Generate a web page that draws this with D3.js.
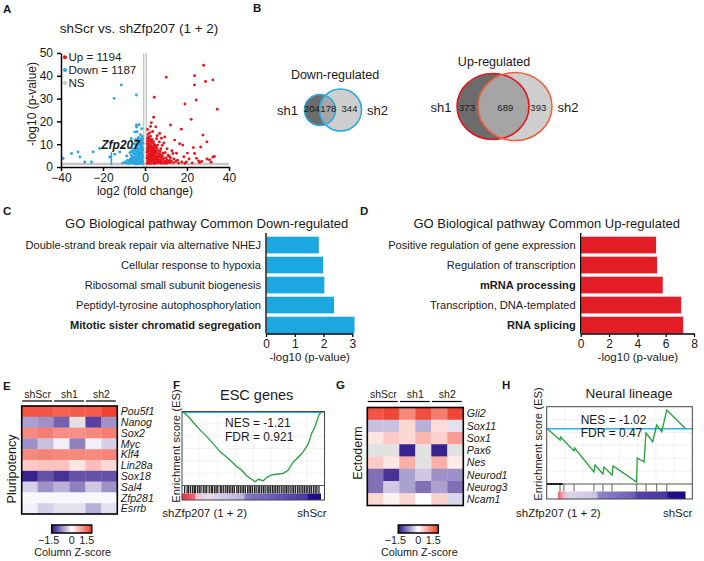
<!DOCTYPE html>
<html>
<head>
<meta charset="utf-8">
<script src="https://cdn.jsdelivr.net/npm/d3@7"></script>
<style>
  body { margin: 0; background: #fff; }
  text { fill: #1a1a1a; }
</style>
</head>
<body>
<div id="figure"></div>
<script>
// ---------- A: volcano ----------
const volcUp = [[27.9,44.6],[23.6,40],[32.3,38.2],[28.8,37.5],[10.1,39.4],[23.6,36],[4.4,30.6],[24.4,29.4],[19,27.6],[34.4,25.3],[4.1,21.8],[22,20.9],[3,19.4],[12.2,18.4],[17.3,16.6],[27.6,14],[5.1,17.6],[14.1,11.8],[29.5,11],[9.4,13.2],[7,14.7],[18,9.6],[26.5,8.8],[23.6,5.9],[32.3,4.4],[30.7,3.2],[19.7,2.2],[11.7,2.9],[26,2],[13.3,5.9],
  [1.2,11.5],[1.8,10.8],[2.5,9.8],[3.2,10.5],[1.5,9.2],[2.2,8.6],[3.8,9],[1.1,8],[4.5,8.2],[1.3,7.2],[2,7.5],[2.8,6.9],[3.5,7.8],[4.2,6.5],[5,7],[5.8,6.2],[1.6,6.1],[2.4,5.6],[3.1,5.2],[4,5.4],[6.5,5.5],[7.2,6.8],[1.1,5],[5.2,5],[1.2,4.2],[1.9,3.5],[2.6,4.4],[3.3,3.1],[4.1,3.9],[4.8,2.8],[5.5,3.6],[6.3,2.5],[7.1,3.2],[8,2.2],[8.8,3.8],[9.5,2.6],[10.5,3.1],[11.4,2.1],[12.5,2.7],[13.5,1.9],[14.7,2.4],[1.4,2.6],[2.1,2.1],[2.9,2.4],[3.7,1.8],[1.7,1.6],[5.9,1.7],[7.6,1.6],[9.2,1.8],[16,1.7],[17.5,2.2],[6.8,4.5],[8.3,4.9],[10,4.1],[3.4,4.8],[4.6,4.4],[5.5,12.4],[6.8,11],[8.2,9.5],[10.5,8],[12.8,7.1],[15,6],[2.6,13.5],[3.6,15.6],[1.4,14.2],[9,10.5],[18.5,4.5],[21,3.5],[24.5,3.8],[27,2.4],[29.5,3.5],[31.5,2.1],[33,4.6],[20.2,6.1],[23,8.5],[16.5,10.2],
  [1.5,3],[2.3,3.9],[3,2.9],[3.9,2.4],[4.4,3.3],[2.7,8],[3.4,6.1],[1.9,9.8],[2.9,11.3],[1.3,12.6],[4.9,9.4],[5.6,8.4],[6.1,4],[7.5,5.2],[8.6,6],[1.1,1.6],[2.6,1.5],[4.5,1.5],[6.8,1.9],[11,5.2],[12.1,4.1],[13.8,3.5],[15.5,3],[19,1.6],[22.5,1.8],[25.5,2.6],
  [1.0,10.2],[1.6,11.9],[2.2,12.2],[2.0,9.3],[2.9,9.1],[3.5,8.5],[4.1,7.4],[4.8,7.7],[1.3,8.6],[1.7,7.0],[2.5,7.2],[3.0,6.2],[3.8,6.8],[4.6,5.8],[5.4,6.5],[6.2,7.3],[1.0,6.5],[1.9,5.2],[2.7,5.0],[3.6,5.6],[4.4,4.9],[5.7,4.6],[6.9,5.8],[7.8,4.1],[1.0,3.8],[1.7,4.6],[2.4,3.2],[3.1,3.8],[3.9,3.3],[4.7,3.7],[5.3,2.6],[6.0,3.2],[6.7,2.8],[7.4,2.4],[8.4,3.1],[9.8,2.0],[10.8,2.5],[12.0,1.9],[1.3,2.0],[2.0,2.7],[2.8,1.8],[3.5,2.2],[4.2,1.9],[5.0,1.8],[8.9,1.6],[10.2,1.6],[3.2,12.1],[4.0,11.2],[1.5,13.0],[2.2,15.0],[4.3,10.0],[5.1,8.8],[6.0,9.6],[7.5,8.0],[9.6,6.3],[11.5,4.7],[1.2,16.5],[2.6,17.8],[5.8,13.7],[7.8,12.6]]
const volcDown = [[-4.1,31.6],[-14.7,30.1],[-11.3,36],[-4.1,18.4],[-4.9,15.4],[-6.5,12.5],[-10.5,8.8],[-21.6,8.1],[-24.7,6.6],[-31.9,6.6],[-35,5.9],[-39,3.7],[-31,4.4],[-28.7,2.2],[-25.5,2.2],[-16.8,4.4],[-14.4,5.6],[-12,6.6],
  [-1.2,11],[-2,10.2],[-2.8,11.6],[-3.5,9.6],[-1.5,9],[-2.4,8.4],[-3.2,7.7],[-4.1,8.8],[-1.1,7.4],[-1.8,6.6],[-2.6,6.1],[-3.6,6.6],[-4.5,6.9],[-5.3,5.7],[-1.3,5.2],[-2.2,4.6],[-3,4.1],[-3.9,5],[-4.8,4.4],[-5.9,3.8],[-6.6,5.1],[-1.6,3.6],[-2.5,2.9],[-3.4,2.5],[-4.3,3.2],[-5.1,2.3],[-6.2,2.7],[-7.3,2.1],[-8.4,2.9],[-1.1,2.3],[-1.9,1.8],[-2.8,1.6],[-4,1.7],[-5.6,1.6],[-7,3.5],[-9.5,2.2],[-10.6,1.7],[-3.1,13],[-4.4,12.1],[-2.2,14.2],[-5,10.2],[-6,8.1],[-7.2,6.3],[-8.7,4.8],[-3.8,15.5],[-1.6,16.8],[-2.9,18.5],[-4,17.5],[-1.4,13.4],[-2.1,12.3],[-3.7,11.2],[-1.2,1.5],[-2.3,2.4],[-3.3,3.4],[-4.6,2.1],[-5.4,3],[-4.2,7.4],[-2.9,5.3],[-1.7,7.9],[-3.5,1.4],[-6.4,1.9],[-8,1.5],
  [-1.0,10.3],[-1.7,11.8],[-2.5,9.6],[-3.1,10.5],[-3.9,10.1],[-4.4,9.4],[-1.2,8.3],[-2.0,7.2],[-2.8,7.0],[-3.5,8.4],[-4.6,8.0],[-1.4,6.2],[-2.2,5.6],[-3.1,6.2],[-4.0,6.0],[-4.9,5.6],[-5.7,6.4],[-1.0,4.4],[-1.7,4.8],[-2.6,3.8],[-3.6,4.1],[-4.5,3.6],[-5.3,4.2],[-6.1,4.6],[-1.3,3.0],[-2.0,2.6],[-2.9,2.1],[-3.8,2.8],[-4.8,2.7],[-5.8,2.2],[-6.8,2.5],[-7.7,2.8],[-8.9,1.9],[-1.6,1.5],[-2.3,1.5],[-4.4,1.4],[-5.2,1.6],[-7.5,1.6],[-6.4,3.4],[-1.9,9.4],[-2.6,10.9],[-3.4,12.2],[-1.1,12.4],[-5.5,7.5],[-6.4,6.8]]
const volcLegend = ['Up = 1194', 'Down = 1187', 'NS']
const volcXTicks = [-40, -20, 0, 20, 40]
const volcYTicks = [0, 10, 20, 30, 40, 50]
const zfp207 = [-16, 6.5]

// ---------- B: venn counts (sh1 only, both, sh2 only) ----------
const vennDown = [204, 178, 344]
const vennUp = [373, 689, 393]

// ---------- C / D: GO bars ----------
const goDownTerms = ['Double-strand break repair via alternative NHEJ', 'Cellular response to hypoxia', 'Ribosomal small subunit biogenesis', 'Peptidyl-tyrosine autophosphorylation', 'Mitotic sister chromatid segregation']
const goDownValues = [1.82, 1.97, 2.01, 2.35, 3.06]
const goDownBold = ['Mitotic sister chromatid segregation']
const goDownTicks = [0, 1, 2, 3]

const goUpTerms = ['Positive regulation of gene expression', 'Regulation of transcription', 'mRNA processing', 'Transcription, DNA-templated', 'RNA splicing']
const goUpValues = [5.29, 5.36, 5.76, 7.06, 7.2]
const goUpBold = ['mRNA processing', 'RNA splicing']
const goUpTicks = [0, 2, 4, 6, 8]

// ---------- E / G: heatmaps (null = not available, grey) ----------
const heatGroups = ['shScr', 'sh1', 'sh2']
const pluriGenes = ['Pou5f1', 'Nanog', 'Sox2', 'Myc', 'Klf4', 'Lin28a', 'Sox18', 'Sal4', 'Zfp281', 'Esrrb']
const pluriZ = [
  [1.3, 1.3, 1.2, 1.25, 1.25, 1.45],
  [-0.6, -0.7, -1.0, null, -1.2, -0.7],
  [0.9, 1.0, 0.85, 0.85, 0.9, 1.0],
  [-0.7, -0.4, -0.1, -0.8, -0.1, -0.3],
  [0.9, 0.95, 0.9, 0.9, 0.88, 0.92],
  [0.4, 0.45, 0.45, 0.2, 0.5, 0.3],
  [-1.4, -1.1, -1.3, -1.1, -1.1, -1.1],
  [-0.3, -0.7, -0.5, -0.8, -0.35, -0.7],
  [-0.05, -0.05, -0.05, -0.05, -0.05, -0.05],
  [-0.1, -0.3, -0.2, -0.2, -0.5, -0.2]
]
const ectoGenes = ['Gli2', 'Sox11', 'Sox1', 'Pax6', 'Nes', 'Neurod1', 'Neurog3', 'Ncam1']
const ectoZ = [
  [1.3, 1.4, 0.9, 1.35, 1.0, 1.4],
  [-0.4, -0.4, 0.3, -0.5, 0.25, -0.2],
  [0.2, 0.4, 0.3, 0.55, 0.35, 0.75],
  [null, null, -1.4, null, -1.4, null],
  [0.4, 0.2, 0.6, null, 0.6, 0.15],
  [-0.9, -1.3, -0.6, -0.35, -0.7, -0.7],
  [-0.9, -0.35, -0.6, -0.9, -0.6, -0.9],
  [0.3, 0.1, 0.3, 0.0, 0.35, -0.25]
]
const zTicks = [-1.5, 0, 1.5]

// ---------- F / H: GSEA running scores (rank fraction, ES) ----------
const escRank = [0, 0.038, 0.075, 0.123, 0.172, 0.22, 0.268, 0.317, 0.365, 0.389, 0.425, 0.462, 0.498, 0.522, 0.546, 0.582, 0.607, 0.643, 0.679, 0.727, 0.763, 0.8, 0.836, 0.872, 0.908, 0.933, 0.957, 0.973, 0.986, 1]
const escES = [0, -0.036, -0.085, -0.145, -0.2, -0.26, -0.323, -0.369, -0.418, -0.446, -0.473, -0.522, -0.549, -0.569, -0.549, -0.561, -0.533, -0.514, -0.508, -0.5, -0.473, -0.405, -0.369, -0.323, -0.26, -0.172, -0.118, -0.063, -0.022, 0]
const escHits = [0.012, 0.03, 0.041, 0.055, 0.07, 0.082, 0.09, 0.105, 0.118, 0.13, 0.147, 0.16, 0.172, 0.19, 0.205, 0.213, 0.228, 0.24, 0.252, 0.27, 0.281, 0.295, 0.31, 0.322, 0.335, 0.347, 0.36, 0.372, 0.39, 0.401, 0.415, 0.428, 0.44, 0.452, 0.468, 0.479, 0.49, 0.503, 0.518, 0.53, 0.545, 0.556, 0.57, 0.583, 0.595, 0.61, 0.622, 0.634, 0.648, 0.66, 0.672, 0.685, 0.697, 0.712, 0.725, 0.738, 0.75, 0.762, 0.776, 0.79, 0.802, 0.815, 0.83, 0.842, 0.855, 0.868, 0.88, 0.893, 0.905, 0.918, 0.93, 0.945, 0.958, 0.97, 0.985]
const neuralRank = [0, 0.092, 0.095, 0.193, 0.197, 0.337, 0.345, 0.402, 0.41, 0.468, 0.475, 0.645, 0.65, 0.699, 0.713, 0.762, 0.79, 0.827, 0.863, 1]
const neuralES = [0, -0.162, -0.119, -0.322, -0.278, -0.626, -0.525, -0.655, -0.554, -0.67, -0.539, -0.771, -0.423, -0.481, -0.061, -0.187, 0.055, -0.042, 0.272, 0]
const neuralHits = [0.092, 0.12, 0.193, 0.337, 0.402, 0.468, 0.645, 0.713, 0.79, 0.863]

function draw() {
  const font = '"Liberation Sans", Arial, sans-serif'
  const svg = d3.select('#figure').append('svg')
    .attr('width', 704)
    .attr('height', 561)
    .style('font-family', font)

  // panel letters
  const letters = [
    { t: 'A', x: 3, y: 12.5 }, { t: 'B', x: 253, y: 11.5 }, { t: 'C', x: 3, y: 215 },
    { t: 'D', x: 360, y: 215 }, { t: 'E', x: 3, y: 389.5 }, { t: 'F', x: 173, y: 388.5 },
    { t: 'G', x: 336, y: 388.5 }, { t: 'H', x: 502, y: 388.5 }
  ]
  svg.selectAll('text.letter')
    .data(letters)
    .join('text')
    .attr('class', 'letter')
    .attr('x', d => d.x)
    .attr('y', d => d.y)
    .attr('font-size', 11.5)
    .attr('font-weight', 'bold')
    .text(d => d.t)

  drawVolcano(svg)
  drawVenn(svg, vennDown, { cx1: 320, cx2: 340.5, cy: 110, r1: 15.5, r2: 21, rx1: 15.5, rx2: 21,
    stroke1: '#29a9e0', stroke2: '#29a9e0', title: 'Down-regulated', titleX: 335, titleY: 79.3,
    sh1X: 287.5, sh2X: 377.5, labY: 115, numX: [311.8, 328.3, 349.5], numY: 112.3 })
  drawVenn(svg, vennUp, { cx1: 493, cx2: 515, cy: 106.5, r1: 33, r2: 34, rx1: 36, rx2: 37,
    stroke1: '#e3161e', stroke2: '#f0603f', title: 'Up-regulated', titleX: 494, titleY: 66,
    sh1X: 441, sh2X: 568, labY: 111.7, numX: [467, 505.3, 538.3], numY: 111 })

  goBars(svg, { terms: goDownTerms, values: goDownValues, bold: goDownBold, ticks: goDownTicks,
    max: 3, x0: 266, x1: 352.3, color: '#1ba8e0', title: 'GO Biological pathway Common Down-regulated', titleX: 206.7 })
  goBars(svg, { terms: goUpTerms, values: goUpValues, bold: goUpBold, ticks: goUpTicks,
    max: 8, x0: 580.7, x1: 694, color: '#e31d25', title: 'GO Biological pathway Common Up-regulated', titleX: 546.7 })

  const zColor = d3.scaleLinear().domain([-1.5, 0, 1.5]).range(['#2c1386', '#ffffff', '#f03a28']).clamp(true)
  const grad = svg.append('defs').append('linearGradient').attr('id', 'zgrad')
  grad.selectAll('stop').data(d3.range(-1.5, 1.51, 0.25)).join('stop')
    .attr('offset', d => (d + 1.5) / 3)
    .attr('stop-color', d => zColor(d))

  heatmap(svg, zColor, { genes: pluriGenes, z: pluriZ, x0: 21.7, x1: 117.3, y0: 406, y1: 514,
    lineY: 401, side: 'Pluripotency', sideX: 11.7, sideY: 469, cbX: 51.7 })
  heatmap(svg, zColor, { genes: ectoGenes, z: ectoZ, x0: 367.3, x1: 463.3, y0: 407.5, y1: 505.5,
    lineY: 401.5, side: 'Ectoderm', sideX: 357, sideY: 453, cbX: 398.3 })

  gsea(svg, { rank: escRank, es: escES, hits: escHits, hitColor: '#222', hitWidth: 1.3, esDomain: [-0.6, 0.005],
    box: [182, 324.5, 411.5, 485.5, 493.5, 500], xr: [183, 321], strip: [182, 321],
    stops: [[0, '#e4313f'], [0.09, '#ee6675'], [0.1, '#f4c0cb'], [0.19, '#e2dbee'], [0.44, '#bcb3dd'], [0.46, '#8478c6'], [0.8, '#5544aa'], [0.9, '#4a36a4'], [0.91, '#22108a'], [1, '#1c0a82']],
    title: 'ESC genes', titleX: 256.7, titleY: 400, titleSize: 14.5,
    nes: 'NES = -1.21', fdr: 'FDR = 0.921', textX: 225, textY: 427.3,
    ylabX: 176, ylabY: 446, leftEnd: 247, rightEnd: 326.7 })
  gsea(svg, { rank: neuralRank, es: neuralES, hits: neuralHits, hitColor: '#7a7a7a', hitWidth: 1.2, esDomain: [-0.8, 0.32],
    box: [546.7, 692.3, 406.7, 484, 491.5, 499], xr: [547.3, 685.7], strip: [558, 685.5],
    stops: [[0, '#f05e6c'], [0.04, '#f4a9b8'], [0.08, '#ddd6ec'], [0.3, '#c9c1e3'], [0.32, '#8e84ca'], [0.6, '#6b5db8'], [0.62, '#5442a8'], [0.85, '#4a36a2'], [0.87, '#26108a'], [1, '#1c0880']],
    title: 'Neural lineage', titleX: 629, titleY: 398.3, titleSize: 13.5,
    nes: 'NES = -1.02', fdr: 'FDR = 0.47', textX: 580.7, textY: 424,
    ylabX: 537.5, ylabY: 444, leftEnd: 600.7, rightEnd: 692.3, blackStub: true })
}

function drawVolcano(svg) {
  const a = svg.append('g')
  const xV = d3.scaleLinear().domain([-40, 40]).range([61, 229])
  const yV = d3.scaleLinear().domain([0, 50]).range([167, 53])

  a.append('text')
    .attr('x', 139).attr('y', 33)
    .attr('text-anchor', 'middle')
    .attr('font-size', 13.5)
    .text('shScr vs. shZfp207 (1 + 2)')

  // significance cut-offs
  a.append('line')
    .attr('x1', xV(-40)).attr('x2', xV(40))
    .attr('y1', yV(1.3)).attr('y2', yV(1.3))
    .attr('stroke', '#c6c6c6').attr('stroke-width', 2.5)
  a.selectAll('line.vcut').data([-0.6, 0.6]).join('line')
    .attr('class', 'vcut')
    .attr('x1', d => xV(d)).attr('x2', d => xV(d))
    .attr('y1', yV(0)).attr('y2', yV(50))
    .attr('stroke', '#bdbdbd').attr('stroke-width', 1.2)

  a.selectAll('circle.up').data(volcUp).join('circle')
    .attr('class', 'up')
    .attr('cx', d => xV(d[0])).attr('cy', d => yV(d[1]))
    .attr('r', 1.45).attr('fill', '#e8151d')
  a.selectAll('circle.down').data(volcDown).join('circle')
    .attr('class', 'down')
    .attr('cx', d => xV(d[0])).attr('cy', d => yV(d[1]))
    .attr('r', 1.45).attr('fill', '#27a7df')

  // Zfp207 marker
  a.append('line')
    .attr('x1', xV(zfp207[0])).attr('x2', xV(zfp207[0]))
    .attr('y1', yV(0.8)).attr('y2', yV(zfp207[1]))
    .attr('stroke', '#27a7df').attr('stroke-width', 1.6)
  a.append('text')
    .attr('x', xV(-11.6)).attr('y', yV(7.9))
    .attr('text-anchor', 'middle')
    .attr('font-size', 12).attr('font-weight', 'bold').attr('font-style', 'italic')
    .text('Zfp207')

  // axes
  const gy = a.append('g')
    .attr('transform', `translate(${xV(-40)},0)`)
    .call(d3.axisLeft(yV).tickValues(volcYTicks).tickSize(4).tickSizeOuter(0).tickPadding(4))
  const gx = a.append('g')
    .attr('transform', `translate(0,${yV(0)})`)
    .call(d3.axisBottom(xV).tickValues(volcXTicks).tickSize(4).tickSizeOuter(0).tickPadding(2))
  ;[gx, gy].forEach(g => {
    g.attr('font-family', null).attr('font-size', 12)
    g.select('.domain').attr('stroke-width', 1.5)
    g.selectAll('.tick line').attr('stroke-width', 1.5)
    g.selectAll('.tick text').attr('fill', '#1a1a1a')
  })

  a.append('text')
    .attr('x', 145).attr('y', 194.5)
    .attr('text-anchor', 'middle').attr('font-size', 12)
    .text('log2 (fold change)')
  a.append('text')
    .attr('transform', 'translate(36,104) rotate(-90)')
    .attr('text-anchor', 'middle').attr('font-size', 12)
    .text('-log10 (p-value)')

  // legend
  const legendColors = ['#e8151d', '#27a7df', '#c6c6c6']
  const lg = a.selectAll('g.leg').data(volcLegend).join('g')
    .attr('class', 'leg')
    .attr('transform', (d, i) => `translate(65,${61.3 + i * 12.8})`)
  lg.append('circle').attr('cx', 0).attr('cy', -4).attr('r', 2).attr('fill', (d, i) => legendColors[i])
  lg.append('text').attr('x', 3.5).attr('y', 0).attr('font-size', 11.6).text(d => d)
}

function drawVenn(svg, counts, c) {
  const g = svg.append('g')
  g.append('text').attr('x', c.titleX).attr('y', c.titleY)
    .attr('text-anchor', 'middle').attr('font-size', 12.5).text(c.title)
  g.append('ellipse').attr('cx', c.cx1).attr('cy', c.cy).attr('rx', c.rx1).attr('ry', c.r1)
    .attr('fill', '#6c6c6c')
  g.append('ellipse').attr('cx', c.cx2).attr('cy', c.cy).attr('rx', c.rx2).attr('ry', c.r2)
    .attr('fill', '#bdbbbc').attr('fill-opacity', 0.72)
  g.append('ellipse').attr('cx', c.cx1).attr('cy', c.cy).attr('rx', c.rx1).attr('ry', c.r1)
    .attr('fill', 'none').attr('stroke', c.stroke1).attr('stroke-width', 1.6)
  g.append('ellipse').attr('cx', c.cx2).attr('cy', c.cy).attr('rx', c.rx2).attr('ry', c.r2)
    .attr('fill', 'none').attr('stroke', c.stroke2).attr('stroke-width', 1.6)
  g.append('text').attr('x', c.sh1X).attr('y', c.labY).attr('text-anchor', 'middle')
    .attr('font-size', 13).text('sh1')
  g.append('text').attr('x', c.sh2X).attr('y', c.labY).attr('text-anchor', 'middle')
    .attr('font-size', 13).text('sh2')
  g.selectAll('text.num').data(counts).join('text')
    .attr('class', 'num')
    .attr('x', (d, i) => c.numX[i]).attr('y', c.numY)
    .attr('text-anchor', 'middle').attr('font-size', 9.5)
    .text(d => d)
}

function goBars(svg, cfg) {
  const g = svg.append('g')
  const x = d3.scaleLinear().domain([0, cfg.max]).range([cfg.x0, cfg.x1])
  const y = d3.scaleBand().domain(cfg.terms).range([236.7, 333.4]).paddingInner(0.165).paddingOuter(0)

  g.append('text').attr('x', cfg.titleX).attr('y', 227.5)
    .attr('text-anchor', 'middle').attr('font-size', 13).text(cfg.title)

  g.selectAll('rect').data(cfg.terms).join('rect')
    .attr('x', x(0) + 0.5)
    .attr('y', d => y(d))
    .attr('width', (d, i) => x(cfg.values[i]) - x(0))
    .attr('height', y.bandwidth())
    .attr('fill', cfg.color)

  g.selectAll('text.term').data(cfg.terms).join('text')
    .attr('class', 'term')
    .attr('x', x(0) - 5)
    .attr('y', d => y(d) + y.bandwidth() / 2)
    .attr('dy', '0.35em')
    .attr('text-anchor', 'end')
    .attr('font-size', 11.1)
    .attr('font-weight', d => cfg.bold.includes(d) ? 'bold' : 'normal')
    .text(d => d)

  g.append('line').attr('x1', x(0)).attr('x2', x(0)).attr('y1', 233).attr('y2', 333.5)
    .attr('stroke', '#000').attr('stroke-width', 1.3)
  const ax = g.append('g').attr('transform', 'translate(0,333.5)')
    .call(d3.axisBottom(x).tickValues(cfg.ticks).tickFormat(d3.format('d'))
      .tickSize(3.5).tickSizeOuter(0).tickPadding(2.2))
  ax.attr('font-family', null).attr('font-size', 12)
  ax.select('.domain').attr('stroke-width', 1.3)
  ax.selectAll('.tick line').attr('stroke-width', 1.3)
  ax.selectAll('.tick text').attr('fill', '#1a1a1a')

  g.append('text').attr('x', (cfg.x0 + cfg.x1) / 2 + 0.5).attr('y', 361)
    .attr('text-anchor', 'middle').attr('font-size', 11.5).text('-log10 (p-value)')
}

function heatmap(svg, zColor, cfg) {
  const g = svg.append('g')
  const x = d3.scaleBand().domain(d3.range(6)).range([cfg.x0, cfg.x1])
  const y = d3.scaleBand().domain(cfg.genes).range([cfg.y0, cfg.y1])

  cfg.genes.forEach((gene, r) => {
    g.selectAll(null).data(cfg.z[r]).join('rect')
      .attr('x', (d, i) => x(i))
      .attr('y', y(gene))
      .attr('width', x.bandwidth() + 0.3)
      .attr('height', y.bandwidth() + 0.3)
      .attr('fill', d => d === null ? '#e2e2e2' : zColor(d))
  })
  g.append('rect').attr('x', cfg.x0).attr('y', cfg.y0)
    .attr('width', cfg.x1 - cfg.x0).attr('height', cfg.y1 - cfg.y0)
    .attr('fill', 'none').attr('stroke', '#000').attr('stroke-width', 1.6)

  g.selectAll('text.gene').data(cfg.genes).join('text')
    .attr('class', 'gene')
    .attr('x', cfg.x1 + 3.5)
    .attr('y', d => y(d) + y.bandwidth() / 2)
    .attr('dy', '0.36em')
    .attr('font-size', 10.6).attr('font-style', 'italic')
    .text(d => d)

  // sample groups
  heatGroups.forEach((grp, k) => {
    const gx0 = x(k * 2), gx1 = x(k * 2 + 1) + x.bandwidth()
    g.append('line').attr('x1', gx0 + 0.5).attr('x2', gx1 - 1.5)
      .attr('y1', cfg.lineY).attr('y2', cfg.lineY)
      .attr('stroke', '#000').attr('stroke-width', 1.2)
    g.append('text').attr('x', (gx0 + gx1) / 2).attr('y', cfg.lineY - 3.3)
      .attr('text-anchor', 'middle').attr('font-size', 10.5).text(grp)
  })

  g.append('text')
    .attr('transform', `translate(${cfg.sideX + 4.5},${cfg.sideY}) rotate(-90)`)
    .attr('text-anchor', 'middle').attr('font-size', 12.5)
    .text(cfg.side)

  // colour key
  g.append('rect').attr('x', cfg.cbX).attr('y', 525).attr('width', 40).attr('height', 8)
    .attr('fill', 'url(#zgrad)').attr('stroke', '#000').attr('stroke-width', 1.5)
  const keyPos = d3.scaleLinear().domain([-1.5, 0, 1.5]).range([cfg.cbX - 3, cfg.cbX + 20, cfg.cbX + 35])
  g.selectAll('text.key').data(zTicks).join('text')
    .attr('class', 'key')
    .attr('x', d => keyPos(d)).attr('y', 544)
    .attr('text-anchor', 'middle').attr('font-size', 10.8)
    .text(d => d === 0 ? '0' : d3.format('.1f')(d))
  g.append('text').attr('x', cfg.cbX + 21).attr('y', 555.5)
    .attr('text-anchor', 'middle').attr('font-size', 10.8).text('Column Z-score')
}

function gsea(svg, cfg) {
  const g = svg.append('g')
  const [bx0, bx1, by0, byMid, byBar, by1] = cfg.box
  const x = d3.scaleLinear().domain([0, 1]).range(cfg.xr)
  const y = d3.scaleLinear().domain(cfg.esDomain).range([byMid, by0])

  g.append('text').attr('x', cfg.titleX).attr('y', cfg.titleY)
    .attr('text-anchor', 'middle').attr('font-size', cfg.titleSize).text(cfg.title)

  g.append('rect').attr('x', bx0).attr('y', by0).attr('width', bx1 - bx0).attr('height', by1 - by0)
    .attr('fill', '#fff')

  // faint grid
  const gridX = d3.range(1, 8).map(i => bx0 + (bx1 - bx0) * i / 8)
  const gridY = d3.range(1, 6).map(i => by0 + (byMid - by0) * i / 6)
  g.selectAll('line.gx').data(gridX).join('line')
    .attr('class', 'gx').attr('x1', d => d).attr('x2', d => d).attr('y1', by0).attr('y2', byMid)
    .attr('stroke', '#ececec').attr('stroke-width', 0.7)
  g.selectAll('line.gy').data(gridY).join('line')
    .attr('class', 'gy').attr('x1', bx0).attr('x2', bx1).attr('y1', d => d).attr('y2', d => d)
    .attr('stroke', '#ececec').attr('stroke-width', 0.7)

  // hits barcode
  g.selectAll('line.hit').data(cfg.hits).join('line')
    .attr('class', 'hit')
    .attr('x1', d => x(d)).attr('x2', d => x(d))
    .attr('y1', byMid).attr('y2', byBar)
    .attr('stroke', cfg.hitColor).attr('stroke-width', cfg.hitWidth)

  // ranked list strip
  const gid = 'strip' + cfg.title.replace(/\s/g, '')
  const lg = svg.select('defs').append('linearGradient').attr('id', gid)
  lg.selectAll('stop').data(cfg.stops).join('stop')
    .attr('offset', d => d[0]).attr('stop-color', d => d[1])
  g.append('rect').attr('x', cfg.strip[0]).attr('y', byBar)
    .attr('width', cfg.strip[1] - cfg.strip[0]).attr('height', by1 - byBar)
    .attr('fill', `url(#${gid})`)

  // zero line and running score
  g.append('line').attr('x1', bx0).attr('x2', bx1).attr('y1', y(0)).attr('y2', y(0))
    .attr('stroke', '#2ab4e8').attr('stroke-width', 1.6)
  const line = d3.line().x(d => x(d[0])).y(d => y(d[1]))
  g.append('path').datum(d3.zip(cfg.rank, cfg.es))
    .attr('d', line).attr('fill', 'none')
    .attr('stroke', '#23a03a').attr('stroke-width', 1.3)

  g.append('line').attr('x1', bx0).attr('x2', bx1).attr('y1', byMid).attr('y2', byMid)
    .attr('stroke', '#555').attr('stroke-width', 1)
  if (cfg.blackStub) {
    g.append('line').attr('x1', bx0).attr('x2', bx0 + 16).attr('y1', byMid).attr('y2', byMid)
      .attr('stroke', '#000').attr('stroke-width', 1.6)
  }
  g.append('rect').attr('x', bx0).attr('y', by0).attr('width', bx1 - bx0).attr('height', by1 - by0)
    .attr('fill', 'none').attr('stroke', '#444').attr('stroke-width', 1)

  g.append('text').attr('x', cfg.textX).attr('y', cfg.textY).attr('font-size', 12).text(cfg.nes)
  g.append('text').attr('x', cfg.textX).attr('y', cfg.textY + 13.4).attr('font-size', 12).text(cfg.fdr)

  g.append('text')
    .attr('transform', `translate(${cfg.ylabX + 4},${cfg.ylabY}) rotate(-90)`)
    .attr('text-anchor', 'middle').attr('font-size', 11.3)
    .text('Enrichment score (ES)')
  g.append('text').attr('x', cfg.leftEnd).attr('y', 517.3)
    .attr('text-anchor', 'end').attr('font-size', 11.5).text('shZfp207 (1 + 2)')
  g.append('text').attr('x', cfg.rightEnd).attr('y', 517.3)
    .attr('text-anchor', 'end').attr('font-size', 11.5).text('shScr')
}

draw()
</script>
</body>
</html>
